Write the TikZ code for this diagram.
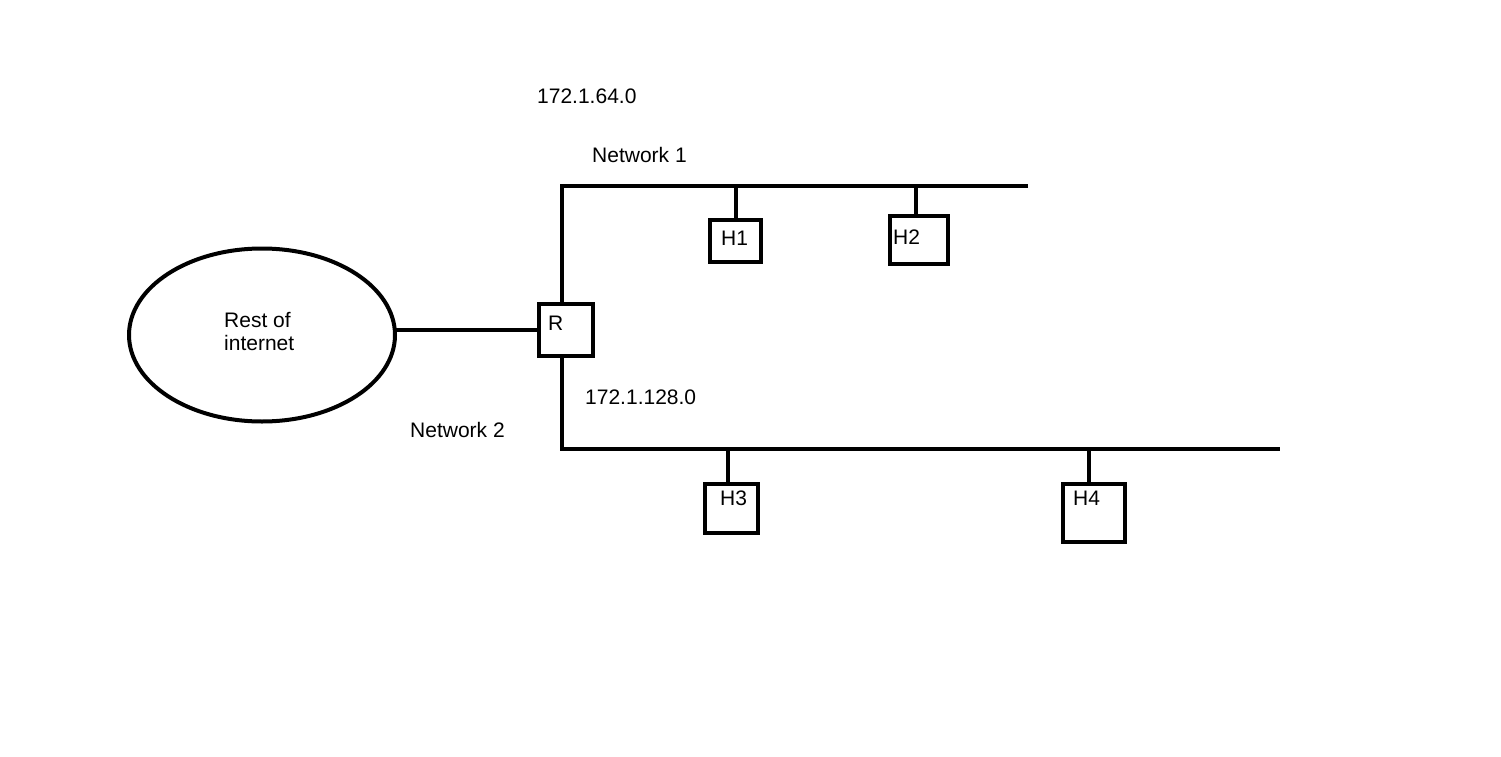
\documentclass[tikz,border=0pt]{standalone}
\usepackage{fontspec}
\setmainfont{Liberation Sans}
\usetikzlibrary{shapes.geometric}
\begin{document}
\begin{tikzpicture}[x=1pt,y=-1pt,
  wire/.style={line width=4pt},
  hostbox/.style={draw,line width=4pt,rectangle,inner sep=0pt,outer sep=0pt},
  lbl/.style={anchor=west,inner sep=0pt,font=\fontsize{21}{23}\selectfont},
  cloud/.style={draw,line width=4pt,ellipse,inner sep=0pt,outer sep=0pt,
    minimum width=266pt,minimum height=173pt}]
  \fill[white] (0,0) rectangle (1501,757);
  \useasboundingbox (0,0) rectangle (1501,757);

  % internet cloud and router
  \node[cloud] (inet) at (262,335) {};
  \node[lbl,align=left] (inett) at (224,332) {Rest of\\internet};
  \node[hostbox,minimum width=54pt,minimum height=52pt] (R) at (566,330) {};
  \node[lbl] (Rt) at (548,323) {R};

  % bus end points
  \coordinate (n1a) at (562,186);
  \coordinate (n1b) at (1028,186);
  \coordinate (n2a) at (562,449);
  \coordinate (n2b) at (1280,449);

  % hosts
  \node[hostbox,minimum width=51pt,minimum height=42pt] (H1) at (735.5,241) {};
  \node[hostbox,minimum width=58pt,minimum height=48pt] (H2) at (919,240) {};
  \node[hostbox,minimum width=53pt,minimum height=49pt] (H3) at (731.5,508.5) {};
  \node[hostbox,minimum width=62pt,minimum height=58pt] (H4) at (1094,513) {};
  \node[lbl] (H1t) at (721,238) {H1};
  \node[lbl] (H2t) at (893,237) {H2};
  \node[lbl] (H3t) at (720,498) {H3};
  \node[lbl] (H4t) at (1073,498) {H4};

  % labels
  \node[lbl] (net1ip) at (537,96) {172.1.64.0};
  \node[lbl] (net1) at (592,155) {Network 1};
  \node[lbl] (net2ip) at (585,397) {172.1.128.0};
  \node[lbl] (net2) at (410,430) {Network 2};

  % connectors
  \draw[wire] (inet.east |- R.west) -- (R.west);
  \draw[wire] (n1b) -- (n1a) -- (n1a |- R.north);
  \draw[wire] (n1a |- R.south) -- (n2a) -- (n2b);
  \draw[wire] (H1.north) -- (H1.north |- n1a);
  \draw[wire] ([xshift=-3pt]H2.north) -- ([xshift=-3pt]H2.north |- n1a);
  \draw[wire] ([xshift=-4pt]H3.north) -- ([xshift=-4pt]H3.north |- n2a);
  \draw[wire] ([xshift=-5pt]H4.north) -- ([xshift=-5pt]H4.north |- n2a);
\end{tikzpicture}
\end{document}
